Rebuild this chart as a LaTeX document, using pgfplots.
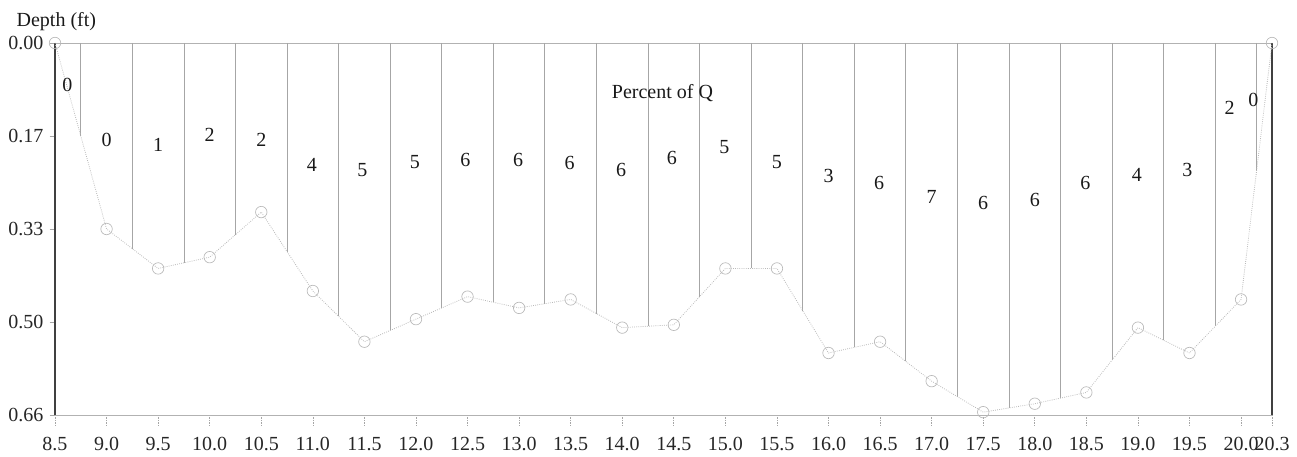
\documentclass[border=0pt]{standalone}
\usepackage{fontspec}
\setmainfont{Liberation Serif}
\usepackage{pgfplots}
\usepackage{pgfplotstable}
\pgfplotsset{compat=1.18}

\pgfplotstableread{
x d
8.5 0
9.0 0.33
9.5 0.40
10.0 0.38
10.5 0.30
11.0 0.44
11.5 0.53
12.0 0.49
12.5 0.45
13.0 0.47
13.5 0.455
14.0 0.505
14.5 0.50
15.0 0.40
15.5 0.40
16.0 0.55
16.5 0.53
17.0 0.60
17.5 0.655
18.0 0.64
18.5 0.62
19.0 0.505
19.5 0.55
20.0 0.455
20.3 0
}\bed

\pgfplotstableread{
x d
8.75 0.165
9.25 0.365
9.75 0.39
10.25 0.34
10.75 0.37
11.25 0.485
11.75 0.51
12.25 0.47
12.75 0.46
13.25 0.4625
13.75 0.48
14.25 0.5025
14.75 0.45
15.25 0.40
15.75 0.475
16.25 0.54
16.75 0.565
17.25 0.6275
17.75 0.6475
18.25 0.63
18.75 0.5625
19.25 0.5275
19.75 0.5025
20.15 0.2275
}\verts

\pgfplotstableread{
x y lab
8.62 0.075 0
9.0 0.172 0
9.5 0.181 1
10.0 0.163 2
10.5 0.172 2
10.99 0.216 4
11.48 0.225 5
11.99 0.211 5
12.48 0.208 6
12.99 0.208 6
13.49 0.213 6
13.99 0.225 6
14.48 0.204 6
14.99 0.185 5
15.5 0.211 5
16.0 0.236 3
16.49 0.248 6
17.0 0.273 7
17.5 0.284 6
18.0 0.279 6
18.49 0.248 6
18.99 0.234 4
19.48 0.225 3
19.89 0.115 2
20.12 0.101 0
}\pct

\begin{document}
\begin{tikzpicture}[font=\fontsize{15}{18}\selectfont]
\begin{axis}[
  name=ax,
  scale only axis,
  width=912.75pt, height=279pt,
  xmin=8.5, xmax=20.3,
  ymin=0, ymax=0.66,
  y dir=reverse,
  clip=false,
  separate axis lines,
  x axis line style={draw=gray!60, line width=0.6pt},
  y axis line style={draw=black!75, line width=0.8pt},
  xtick={8.5,9,9.5,10,10.5,11,11.5,12,12.5,13,13.5,14,14.5,15,15.5,16,16.5,17,17.5,18,18.5,19,19.5,20,20.3},
  xticklabels={8.5,9.0,9.5,10.0,10.5,11.0,11.5,12.0,12.5,13.0,13.5,14.0,14.5,15.0,15.5,16.0,16.5,17.0,17.5,18.0,18.5,19.0,19.5,20.0,20.3},
  ytick={0,0.165,0.33,0.495,0.66},
  yticklabels={0.00,0.17,0.33,0.50,0.66},
  xtick pos=bottom, ytick pos=left,
  tick align=outside,
  x tick style={draw=gray!70, densely dotted, line width=0.5pt},
  y tick style={draw=gray!70, line width=0.5pt},
  xtick style={/pgfplots/major tick length=7.5pt},
  ytick style={/pgfplots/major tick length=4pt},
  ticklabel style={font=\fontsize{15}{18}\selectfont, text=black!85},
  /pgf/number format/assume math mode=true,
  xticklabel style={yshift=-9pt},
  yticklabel style={xshift=-1pt},
]
% vertical subsection lines
\addplot[ycomb, draw=gray!70, line width=0.6pt, mark=none] table[x=x, y=d] {\verts};
% bed profile
\addplot[draw=gray!55, densely dotted, line width=0.6pt, mark=o, mark size=4.3pt,
  mark options={solid, draw=gray!55, line width=0.5pt}] table[x=x, y=d] {\bed};
% percent of Q labels
\addplot[draw=none, mark=none, nodes near coords, point meta=explicit symbolic,
  every node near coord/.style={anchor=center, inner sep=0pt, text=black!90,
  font=\fontsize{15}{18}\selectfont}] table[x=x, y=y, meta=lab] {\pct};
\node[anchor=base, inner sep=0pt, text=black!90] at (axis cs:14.39,0.0976) {Percent of Q};
\node[anchor=base, inner sep=0pt, text=black!90] at ([xshift=1pt, yshift=12pt]axis description cs:0,1) {Depth (ft)};
\end{axis}
\pgfresetboundingbox
\path ([xshift=-41.25pt, yshift=-31.5pt]ax.south west) rectangle ([xshift=18.75pt, yshift=32.25pt]ax.north east);
\end{tikzpicture}
\end{document}
